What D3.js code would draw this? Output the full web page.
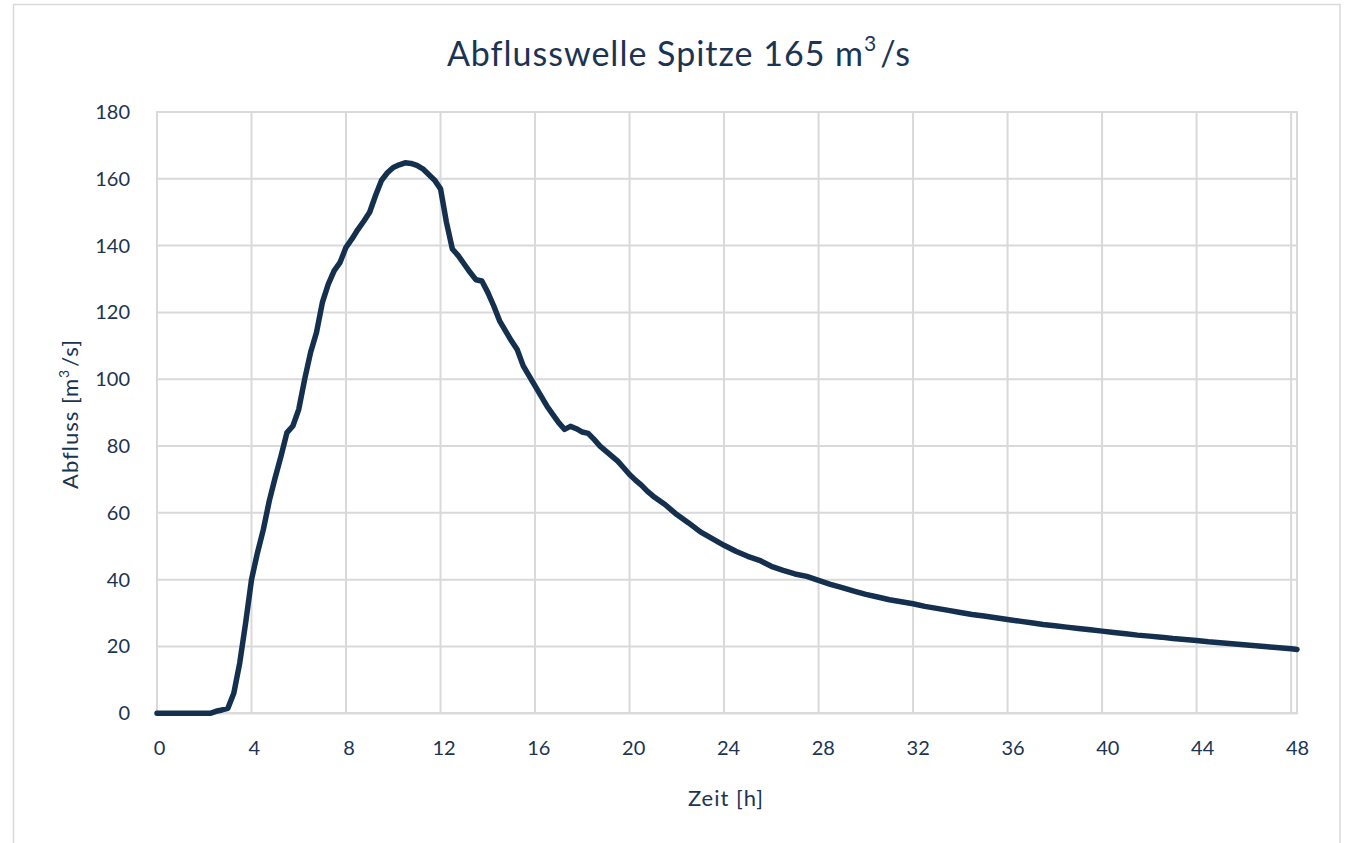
<!DOCTYPE html>
<html>
<head>
<meta charset="utf-8">
<script src="https://cdn.jsdelivr.net/npm/d3@7"></script>
<style>
  html, body { margin: 0; padding: 0; background: #fff; }
  svg { display: block; }
  text { font-family: Lato, "Open Sans", sans-serif; fill: #1b3452; }
</style>
</head>
<body>
<svg id="chart" width="1345" height="843"></svg>
<script>
// Time in hours
const hours = [0,0.5,1,1.5,2,2.25,2.5,2.75,3,3.25,3.5,3.75,4,4.25,4.5,4.75,5,5.25,5.5,5.75,6,6.25,6.5,6.75,7,7.25,7.5,7.75,8,8.25,8.5,8.75,9,9.25,9.5,9.75,10,10.25,10.5,10.75,11,11.25,11.5,11.75,12,12.25,12.5,12.75,13,13.25,13.5,13.75,14,14.25,14.5,14.75,15,15.25,15.5,15.75,16,16.25,16.5,16.75,17,17.25,17.5,17.75,18,18.25,18.5,18.75,19,19.25,19.5,19.75,20,20.25,20.5,20.75,21,21.5,22,22.5,23,23.5,24,24.5,25,25.5,26,26.5,27,27.5,28,28.5,29,29.5,30,30.5,31,31.5,32,32.5,33,33.5,34,34.5,35,35.5,36,36.5,37,37.5,38,38.5,39,39.5,40,40.5,41,41.5,42,42.5,43,43.5,44,44.5,45,45.5,46,46.5,47,47.5,48,48.25];
// Discharge in m3/s
const discharge = [0,0,0,0,0,0,0.6,1.0,1.5,6,15,27,40,48,55,63.5,70.5,77,84,86,91,100,108,114,123,128.5,132.5,135,139.5,142,144.8,147.3,150,155,159.5,161.8,163.4,164.2,164.8,164.6,164.0,163,161.3,159.6,157,147,139,137,134.5,132,129.8,129.4,126,122,117.5,114.5,111.5,108.8,104,101,98,95,92,89.5,87,85,85.9,85.2,84.2,83.8,82,80,78.5,77,75.5,73.5,71.5,69.8,68.3,66.5,65,62.5,59.5,57,54.3,52.3,50.3,48.5,47,45.8,44,42.8,41.7,41,39.8,38.6,37.6,36.6,35.6,34.8,34,33.4,32.8,32,31.4,30.8,30.2,29.6,29.1,28.6,28.1,27.6,27.1,26.6,26.2,25.8,25.4,25.0,24.6,24.2,23.8,23.4,23.1,22.8,22.4,22.1,21.8,21.4,21.1,20.8,20.5,20.2,19.9,19.6,19.3,19.1];
const xTicks = [0,4,8,12,16,20,24,28,32,36,40,44,48];
const yTicks = [0,20,40,60,80,100,120,140,160,180];

const title = "Abflusswelle Spitze 165 m";
const xTitle = "Zeit [h]";
const yTitle = "Abfluss [m";

(function () {
const svg = d3.select("#chart");
const pl = 157, pr = 1297, pt = 112, pb = 713.3;
const grid = "#d9d9d9", ink = "#17304f";

// outer border
svg.append("rect").attr("x", 13.5).attr("y", 4.5).attr("width", 1326.5).attr("height", 860)
  .attr("fill", "none").attr("stroke", grid).attr("stroke-width", 1.5);

const x = d3.scaleLinear().domain([0, 48.25]).range([pl, pr]);
const xLab = d3.scaleLinear().domain([0, 48]).range([pl + 2, pr]);
const y = d3.scaleLinear().domain([0, 180]).range([pb, pt]);

// gridlines
svg.append("g").selectAll("line").data(xTicks).join("line")
  .attr("x1", d => x(d)).attr("x2", d => x(d)).attr("y1", pt).attr("y2", pb)
  .attr("stroke", grid).attr("stroke-width", 2);
svg.append("g").selectAll("line").data(yTicks).join("line")
  .attr("x1", pl).attr("x2", pr).attr("y1", d => y(d)).attr("y2", d => y(d))
  .attr("stroke", grid).attr("stroke-width", 2);
svg.append("rect").attr("x", pl).attr("y", pt).attr("width", pr - pl).attr("height", pb - pt)
  .attr("fill", "none").attr("stroke", grid).attr("stroke-width", 2);

// axes labels via d3 axes
const xAxis = svg.append("g").attr("transform", `translate(0,${pb})`)
  .call(d3.axisBottom(xLab).tickValues(xTicks).tickSize(0).tickPadding(28));
xAxis.select(".domain").remove();
xAxis.selectAll("text").style("font-size", "20px").attr("fill", ink);

const yAxis = svg.append("g").attr("transform", `translate(${pl},0)`)
  .call(d3.axisLeft(y).tickValues(yTicks).tickSize(0).tickPadding(27));
yAxis.select(".domain").remove();
yAxis.selectAll("text").style("font-size", "20px").attr("fill", ink);

// line
const line = d3.line().x((d, i) => x(hours[i])).y(d => y(d)).curve(d3.curveLinear);
svg.append("path").datum(discharge).attr("d", line)
  .attr("fill", "none").attr("stroke", "#15304f").attr("stroke-width", 5.5)
  .attr("stroke-linejoin", "round").attr("stroke-linecap", "round");

// title
const t = svg.append("text").attr("x", 679).attr("y", 66).attr("text-anchor", "middle")
  .style("font-size", "34px").style("letter-spacing", "1px");
t.append("tspan").text(title);
t.append("tspan").attr("dy", -15).style("font-size", "21px").text("3");
t.append("tspan").attr("dy", 15).attr("dx", 3).text("/s");

// x title
svg.append("text").attr("x", 726).attr("y", 806).attr("text-anchor", "middle")
  .style("font-size", "22px").style("letter-spacing", "1px").text(xTitle);

// y title
const yt = svg.append("text").attr("transform", "translate(78,414) rotate(-90)")
  .attr("text-anchor", "middle").style("font-size", "22px").style("letter-spacing", "1px");
yt.append("tspan").text(yTitle);
yt.append("tspan").attr("dy", -9).style("font-size", "14px").text("3");
yt.append("tspan").attr("dy", 9).attr("dx", 2).text("/s]");
})();
</script>
</body>
</html>
